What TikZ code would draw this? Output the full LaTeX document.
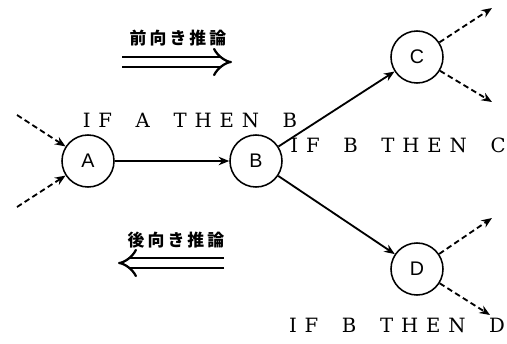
\documentclass[tikz,border=0pt]{standalone}
\usepackage{fontspec}
\usepackage{tikz}
\usetikzlibrary{arrows.meta}
\setsansfont{Liberation Sans}
\newfontfamily\rulefont[LetterSpace=40]{DejaVu Serif}
\newfontfamily\jpfont[LetterSpace=18]{Noto Sans CJK JP}

\begin{document}
\begin{tikzpicture}[x=0.025cm, y=-0.025cm, >={Stealth[length=7.5pt,width=6pt]},
  every node/.style={font=\sffamily\fontsize{14pt}{16pt}\selectfont},
  fact/.style={draw, circle, line width=1.1pt, minimum size=1.3cm, inner sep=0pt},
  rule/.style={font=\rulefont\fontsize{14pt}{16pt}\selectfont},
  infer/.style={font=\jpfont\bfseries\fontsize{12pt}{14pt}\selectfont},
  link/.style={->, line width=1.3pt},
  chain/.style={->, line width=1.3pt, dash pattern=on 4pt off 2.5pt},
  way/.style={double, double distance=0.19cm, line width=1.6pt, -{Implies}}]
  \useasboundingbox (0,0) rectangle (507,343);

  % facts
  \node[fact] (A) at (88,161) {A};
  \node[fact] (B) at (256,161) {B};
  \node[fact] (C) at (417,57) {C};
  \node[fact] (D) at (417,269) {D};

  % rules
  \node[rule] (ifab) at (190,120) {IF\hspace{1.2em}A\hspace{1.2em}THEN\hspace{1.2em}B};
  \node[rule] (ifbc) at (398,145) {IF\hspace{1.2em}B\hspace{1.2em}THEN\hspace{1.2em}C};
  \node[rule] (ifbd) at (397,325) {IF\hspace{1.2em}B\hspace{1.2em}THEN\hspace{1.2em}D};

  \draw[link] (A) -- (B);
  \draw[link] (B) -- (C);
  \draw[link] (B) -- (D);

  % incoming and outgoing chains
  \coordinate (a1) at (17,115);
  \coordinate (a2) at (17,207);
  \coordinate (c1) at (492,8);
  \coordinate (c2) at (492,102);
  \coordinate (d1) at (492,218);
  \coordinate (d2) at (490,315);
  \draw[chain] (a1) -- (A);
  \draw[chain] (a2) -- (A);
  \draw[chain] (C) -- (c1);
  \draw[chain] (C) -- (c2);
  \draw[chain] (D) -- (d1);
  \draw[chain] (D) -- (d2);

  % direction of reasoning
  \node[infer] (fwd) at (178,38) {前向き推論};
  \coordinate (f1) at (122,62);
  \coordinate (f2) at (232,62);
  \draw[way] (f1) -- (f2);
  \node[infer] (bwd) at (176,240) {後向き推論};
  \coordinate (b1) at (224,263);
  \coordinate (b2) at (118,263);
  \draw[way] (b1) -- (b2);
\end{tikzpicture}
\end{document}
